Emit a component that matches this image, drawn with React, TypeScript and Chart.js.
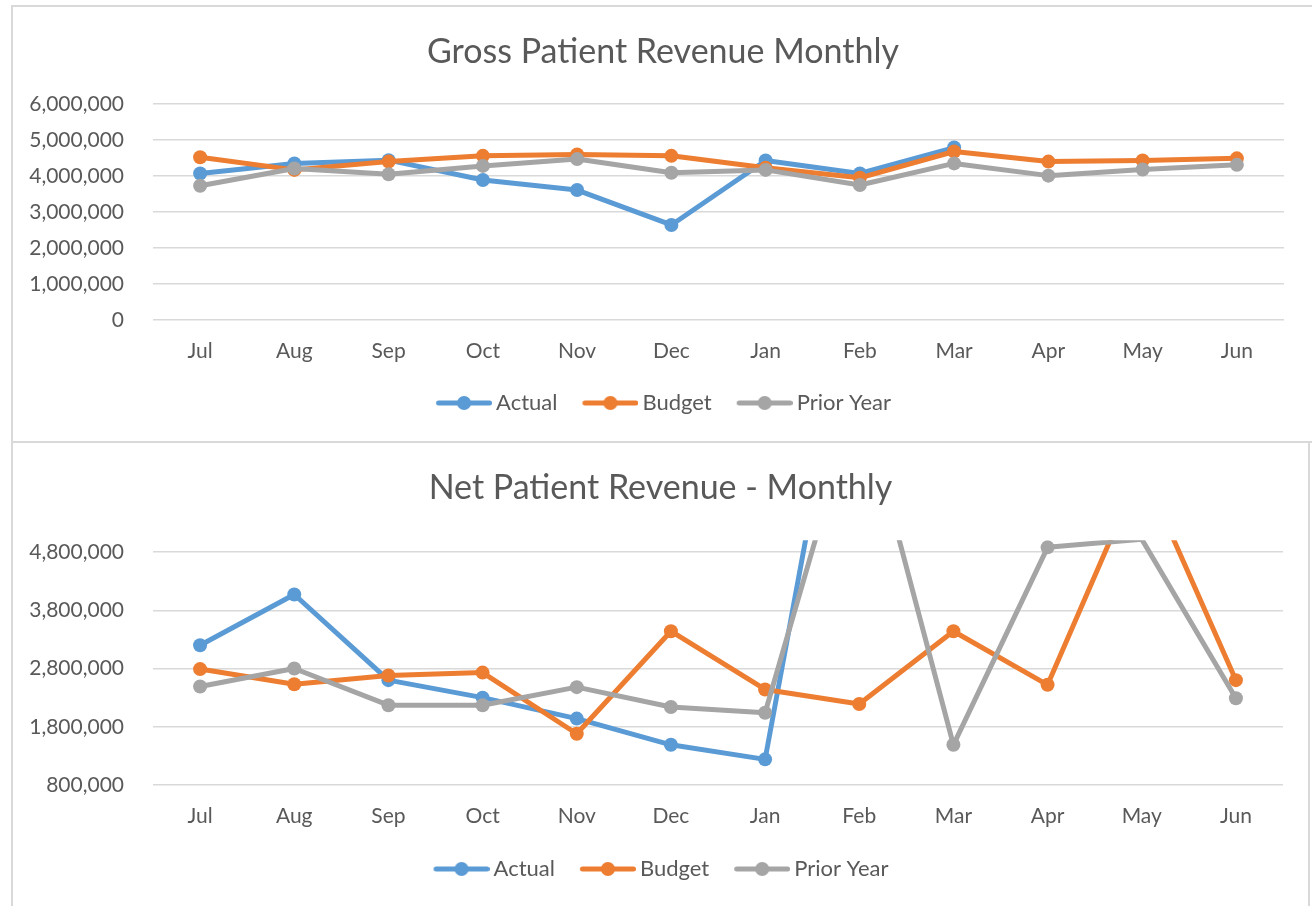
import React, { useEffect, useRef } from 'react';
import { Chart, registerables } from 'chart.js';

Chart.register(...registerables);

const months = ['Jul', 'Aug', 'Sep', 'Oct', 'Nov', 'Dec', 'Jan', 'Feb', 'Mar', 'Apr', 'May', 'Jun'];
const seriesNames = ['Actual', 'Budget', 'Prior Year'];

const grossActual = [4070000, 4350000, 4440000, 3890000, 3610000, 2640000, 4430000, 4070000, 4790000, null, null, null];
const grossBudget = [4520000, 4170000, 4400000, 4560000, 4600000, 4560000, 4230000, 3950000, 4680000, 4400000, 4430000, 4490000];
const grossPrior = [3730000, 4210000, 4050000, 4280000, 4470000, 4090000, 4170000, 3750000, 4350000, 4010000, 4180000, 4310000];
const grossTicks = [0, 1000000, 2000000, 3000000, 4000000, 5000000, 6000000];

const netActual = [3200000, 4070000, 2600000, 2300000, 1940000, 1490000, 1240000, 10000000, 9500000, null, null, null];
const netBudget = [2790000, 2530000, 2680000, 2730000, 1680000, 3440000, 2440000, 2190000, 3440000, 2520000, 6250000, 2600000];
const netPrior = [2490000, 2800000, 2170000, 2170000, 2480000, 2140000, 2040000, 7600000, 1490000, 4880000, 5020000, 2290000];
const netTicks = [800000, 1800000, 2800000, 3800000, 4800000];

const COLORS = ['#5B9BD5', '#ED7D31', '#A5A5A5'];
const TEXT = '#595959';
const GRID = '#D9D9D9';
const FONT = 'Lato';
const TITLE_SIZE = 34;
const TICK_SIZE = 21;
const LEGEND_SIZE = 22;

function legendSymbol(color: string) {
  const c = document.createElement('canvas');
  c.width = 64;
  c.height = 16;
  const g = c.getContext('2d')!;
  g.strokeStyle = color;
  g.lineWidth = 5;
  g.lineCap = 'round';
  g.beginPath();
  g.moveTo(10.5, 8);
  g.lineTo(61.5, 8);
  g.stroke();
  g.fillStyle = color;
  g.beginPath();
  g.arc(36, 8, 7, 0, Math.PI * 2);
  g.fill();
  return c;
}

type Props = {
  title: string;
  series: (number | null)[][];
  ticks: number[];
  min: number;
  max: number;
  width: number;
  height: number;
  titleCenter: number;
  plotTop: number;
  xAxisHeight: number;
  xTickPad: number;
  rightGap: number;
  padBottom: number;
};

function LineChart(p: Props) {
  const ref = useRef<HTMLCanvasElement | null>(null);
  useEffect(() => {
    const symbols = COLORS.map(legendSymbol);
    const half = (TITLE_SIZE * 1.2) / 2;
    const tTop = p.titleCenter - half + 0.6;
    const tBottom = p.plotTop - tTop - TITLE_SIZE * 1.2;
    const chart = new Chart(ref.current!, {
      type: 'line',
      data: {
        labels: months,
        datasets: p.series.map((d, i) => ({
          label: seriesNames[i],
          data: d,
          borderColor: COLORS[i],
          backgroundColor: COLORS[i],
          pointBackgroundColor: COLORS[i],
          pointBorderColor: COLORS[i],
          pointBorderWidth: 0,
          borderWidth: 5,
          pointRadius: (ctx: any) => (ctx.raw == null || ctx.raw > p.max ? 0 : 7),
          pointHoverRadius: 7,
          tension: 0,
          borderJoinStyle: 'round',
          borderCapStyle: 'round',
          order: 3 - i,
          yAxisID: 'y',
        })),
      },
      options: {
        responsive: false,
        animation: false,
        devicePixelRatio: 1,
        layout: { padding: { left: 0, right: 0, top: 0, bottom: p.padBottom } },
        plugins: {
          tooltip: { enabled: false },
          title: {
            display: true,
            text: p.title,
            color: TEXT,
            font: { family: FONT, size: TITLE_SIZE, weight: 'normal' },
            padding: { top: tTop, bottom: tBottom },
          },
          legend: {
            position: 'bottom',
            labels: {
              usePointStyle: true,
              pointStyleWidth: 50,
              padding: 24,
              color: TEXT,
              font: { family: FONT, size: LEGEND_SIZE },
              generateLabels: () =>
                seriesNames.map((name, i) => ({
                  text: name,
                  fillStyle: COLORS[i],
                  strokeStyle: COLORS[i],
                  lineWidth: 0,
                  pointStyle: symbols[i],
                  hidden: false,
                  datasetIndex: i,
                  fontColor: TEXT,
                })),
            },
          },
        },
        scales: {
          x: {
            offset: true,
            grid: { display: false, offset: true },
            border: { display: false },
            ticks: {
              color: TEXT,
              font: { family: FONT, size: TICK_SIZE },
              padding: p.xTickPad,
              maxRotation: 0,
              autoSkip: false,
            },
            afterFit: (s: any) => {
              s.height = p.xAxisHeight;
            },
          },
          y: {
            min: p.min,
            max: p.max,
            grid: { color: GRID, lineWidth: 1.5, drawTicks: false },
            border: { display: false },
            ticks: {
              color: TEXT,
              font: { family: FONT, size: TICK_SIZE },
              padding: 29,
              callback: (v: any) => Number(v).toLocaleString('en-US'),
            },
            afterBuildTicks: (s: any) => {
              s.ticks = p.ticks.map((v) => ({ value: v }));
            },
            afterFit: (s: any) => {
              s.width = 140;
            },
          },
          yGap: {
            position: 'right',
            min: p.min,
            max: p.max,
            grid: { display: false, drawTicks: false },
            border: { display: false },
            ticks: { display: false },
            afterFit: (s: any) => {
              s.width = p.rightGap;
            },
          },
        },
      } as any,
    });
    return () => chart.destroy();
  }, []);
  return <canvas ref={ref} width={p.width} height={p.height} style={{ display: 'block' }} />;
}

export default function App() {
  return (
    <div
      style={{
        position: 'fixed',
        left: 0,
        top: 0,
        width: 1312,
        height: 906,
        overflow: 'hidden',
        background: '#ffffff',
      }}
    >
      <div
        style={{
          position: 'absolute',
          left: 11,
          top: 5,
          width: 1304,
          height: 438,
          border: '2px solid #D9D9D9',
          boxSizing: 'border-box',
          background: '#fff',
        }}
      >
        <LineChart
          title="Gross Patient Revenue Monthly"
          series={[grossActual, grossBudget, grossPrior]}
          ticks={grossTicks}
          min={0}
          max={6000000}
          width={1300}
          height={434}
          titleCenter={44}
          plotTop={97}
          xAxisHeight={48}
          xTickPad={10.4}
          rightGap={29}
          padBottom={17}
        />
      </div>
      <div
        style={{
          position: 'absolute',
          left: 11,
          top: 441,
          width: 1299,
          height: 470,
          border: '2px solid #D9D9D9',
          boxSizing: 'border-box',
          background: '#fff',
        }}
      >
        <LineChart
          title="Net Patient Revenue - Monthly"
          series={[netActual, netBudget, netPrior]}
          ticks={netTicks}
          min={800000}
          max={5000000}
          width={1295}
          height={464}
          titleCenter={44}
          plotTop={97.35}
          xAxisHeight={49}
          xTickPad={10.4}
          rightGap={25}
          padBottom={17}
        />
      </div>
    </div>
  );
}
